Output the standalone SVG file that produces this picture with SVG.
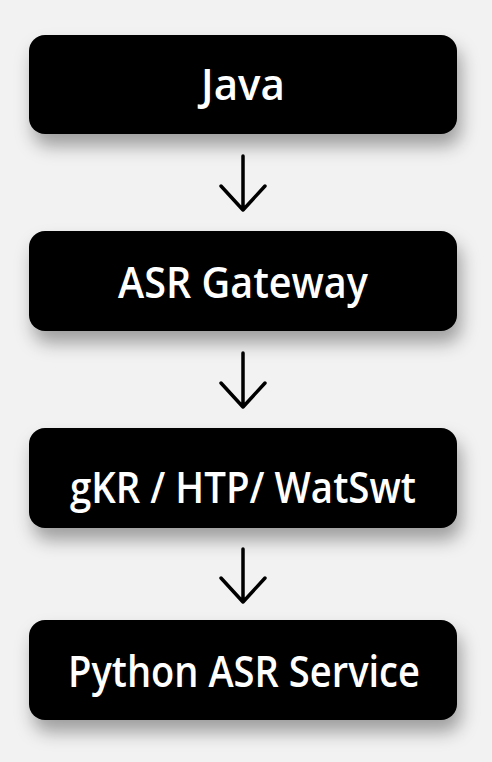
<svg xmlns="http://www.w3.org/2000/svg" width="492" height="762" viewBox="0 0 492 762">
  <defs>
    <filter id="shadow" x="-20%" y="-40%" width="140%" height="220%">
      <feDropShadow dx="4" dy="12" stdDeviation="9" flood-color="#000" flood-opacity="0.35"/>
    </filter>
    <style>
      .box { fill: #000; filter: url(#shadow); }
      .label { fill: #fff; font-family: "Open Sans", "Noto Sans", "Liberation Sans", sans-serif; font-weight: 600; font-size: 43px; text-anchor: middle; }
      .conn { fill: none; stroke: #000; stroke-width: 3.5; stroke-linecap: round; stroke-linejoin: round; }
    </style>
  </defs>
  <rect width="492" height="762" fill="#f2f2f2"/>
  <g id="connectors">
    <path class="conn" d="M243 156 V210 M221 186 L243 210 L265 186"/>
    <path class="conn" d="M243 353 V407 M221 383 L243 407 L265 383"/>
    <path class="conn" d="M243 549 V602 M221 578 L243 602 L265 578"/>
  </g>
  <g id="node-java">
    <rect class="box" x="29" y="35" width="428" height="99" rx="16"/>
    <text class="label" x="243" y="100" textLength="84" lengthAdjust="spacingAndGlyphs">Java</text>
  </g>
  <g id="node-gateway">
    <rect class="box" x="29" y="231" width="428" height="100" rx="16"/>
    <text class="label" x="243" y="298" textLength="250" lengthAdjust="spacingAndGlyphs">ASR Gateway</text>
  </g>
  <g id="node-protocol">
    <rect class="box" x="29" y="428" width="428" height="100" rx="16"/>
    <text class="label" x="243" y="503" textLength="346" lengthAdjust="spacingAndGlyphs">gKR / HTP/ WatSwt</text>
  </g>
  <g id="node-python">
    <rect class="box" x="29" y="620" width="428" height="100" rx="16"/>
    <text class="label" x="244" y="687" textLength="352" lengthAdjust="spacingAndGlyphs">Python ASR Service</text>
  </g>
</svg>
